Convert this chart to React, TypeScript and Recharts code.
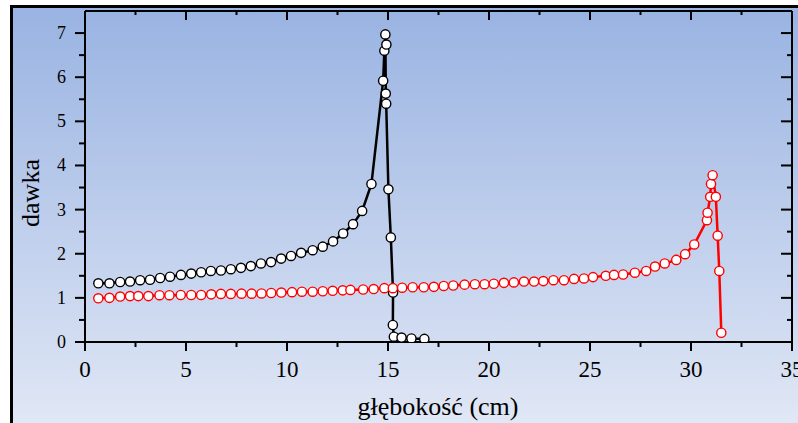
import React from 'react';
import { LineChart, Line, XAxis, YAxis, ReferenceLine } from 'recharts';

// depth (cm) and dose readings
const blackX = [0.66, 1.21, 1.74, 2.23, 2.73, 3.22, 3.72, 4.21, 4.75, 5.26, 5.75, 6.23, 6.73, 7.22, 7.72, 8.21, 8.71, 9.21, 9.71, 10.2, 10.7, 11.27, 11.77, 12.28, 12.78, 13.27, 13.72, 14.18, 14.76, 14.82, 14.92, 14.87, 14.89, 14.91, 15.02, 15.14, 15.25, 15.24, 15.29, 15.67, 16.16, 16.8];
const blackY = [1.33, 1.33, 1.36, 1.37, 1.4, 1.41, 1.45, 1.48, 1.52, 1.55, 1.58, 1.61, 1.62, 1.65, 1.68, 1.72, 1.78, 1.81, 1.89, 1.95, 2.02, 2.08, 2.16, 2.28, 2.46, 2.67, 2.97, 3.58, 5.92, 6.6, 6.74, 6.97, 5.63, 5.4, 3.46, 2.37, 1.12, 0.385, 0.12, 0.1, 0.08, 0.07];

const redX = [0.66, 1.21, 1.74, 2.23, 2.64, 3.14, 3.69, 4.18, 4.74, 5.26, 5.75, 6.25, 6.73, 7.22, 7.75, 8.25, 8.74, 9.22, 9.72, 10.25, 10.74, 11.27, 11.77, 12.26, 12.76, 13.14, 13.77, 14.29, 14.82, 15.24, 15.7, 16.22, 16.77, 17.27, 17.76, 18.23, 18.79, 19.3, 19.78, 20.24, 20.74, 21.23, 21.73, 22.23, 22.69, 23.19, 23.71, 24.21, 24.7, 25.15, 25.78, 26.19, 26.64, 27.22, 27.78, 28.22, 28.7, 29.27, 29.71, 30.16, 30.79, 30.82, 30.95, 30.99, 31.07, 31.23, 31.32, 31.4, 31.5];
const redY = [0.99, 1.0, 1.03, 1.04, 1.04, 1.04, 1.06, 1.06, 1.065, 1.065, 1.065, 1.08, 1.09, 1.09, 1.095, 1.095, 1.1, 1.11, 1.12, 1.13, 1.14, 1.14, 1.15, 1.16, 1.17, 1.18, 1.19, 1.2, 1.22, 1.22, 1.23, 1.24, 1.24, 1.25, 1.27, 1.28, 1.3, 1.31, 1.31, 1.32, 1.34, 1.35, 1.37, 1.37, 1.38, 1.4, 1.4, 1.43, 1.44, 1.47, 1.5, 1.52, 1.53, 1.57, 1.61, 1.71, 1.78, 1.86, 1.99, 2.21, 2.76, 2.93, 3.29, 3.58, 3.78, 3.29, 2.41, 1.61, 0.21];

const xTicks = [0, 2.5, 5, 7.5, 10, 12.5, 15, 17.5, 20, 22.5, 25, 27.5, 30, 32.5, 35];
const yTicks = [0, 0.5, 1, 1.5, 2, 2.5, 3, 3.5, 4, 4.5, 5, 5.5, 6, 6.5, 7];

const blackData = blackX.map((x, i) => ({ x, y: blackY[i] }));
const redData = redX.map((x, i) => ({ x, y: redY[i] }));

const FONT = '"Liberation Serif", "Times New Roman", serif';

// plot box edges (margin.top and width - margin.right)
const PLOT_TOP = 11;
const PLOT_RIGHT = 792;

// bottom tick also draws the inward tick on the top edge
const BottomTick = ({ x, y, payload }: any) => {
  const major = payload.value % 5 === 0;
  return (
    <g>
      <line x1={x} x2={x} y1={y} y2={y + (major ? 9 : 5)} stroke="#000" strokeWidth={2} />
      <line x1={x} x2={x} y1={PLOT_TOP} y2={PLOT_TOP + (major ? 9 : 4)} stroke="#000" strokeWidth={2} />
      {major && (
        <text x={x} y={y + 35} textAnchor="middle" fontSize={23} fontFamily={FONT} fill="#000">
          {payload.value}
        </text>
      )}
    </g>
  );
};

// left tick also draws the inward tick on the right edge
const LeftTick = ({ x, y, payload }: any) => {
  const major = payload.value % 1 === 0;
  return (
    <g>
      <line x1={x - (major ? 10 : 6)} x2={x} y1={y} y2={y} stroke="#000" strokeWidth={2} />
      <line x1={PLOT_RIGHT - (major ? 11 : 5)} x2={PLOT_RIGHT} y1={y} y2={y} stroke="#000" strokeWidth={2} />
      {major && (
        <text x={x - 19} y={y + 6} textAnchor="end" fontSize={18} fontFamily={FONT} fill="#000">
          {payload.value}
        </text>
      )}
    </g>
  );
};

export default function App() {
  return (
    <div style={{ position: 'absolute', left: 0, top: 0, width: 798, height: 423, overflow: 'hidden', background: '#fff' }}>
      <div
        style={{
          position: 'absolute',
          left: 10,
          top: 5,
          width: 800,
          height: 430,
          border: '3px solid #000',
          background: 'linear-gradient(to bottom, #99b3e2, #e3e9f6)',
        }}
      />
      <div style={{ position: 'absolute', left: 0, top: 0 }}>
        <LineChart width={798} height={423} margin={{ top: PLOT_TOP, right: 798 - PLOT_RIGHT, bottom: 0, left: 0 }}>
          <XAxis
            dataKey="x"
            type="number"
            domain={[0, 35]}
            ticks={xTicks}
            interval={0}
            tickSize={0}
            tickMargin={0}
            tick={<BottomTick />}
            height={81}
            axisLine={{ stroke: '#000', strokeWidth: 2 }}
            allowDataOverflow
          />
          <YAxis
            type="number"
            domain={[0, 7.5]}
            ticks={yTicks}
            interval={0}
            tickSize={0}
            tickMargin={0}
            tick={<LeftTick />}
            width={85}
            axisLine={{ stroke: '#000', strokeWidth: 2 }}
            allowDataOverflow
          />
          {/* top and right edges of the plot box */}
          <ReferenceLine y={7.5} stroke="#000" strokeWidth={2} ifOverflow="visible" />
          <ReferenceLine x={35} stroke="#000" strokeWidth={2} ifOverflow="visible" />
          <Line
            data={blackData}
            dataKey="y"
            type="linear"
            stroke="#000"
            strokeWidth={2.5}
            dot={{ r: 4.6, fill: '#fff', stroke: '#000', strokeWidth: 1.4 }}
            isAnimationActive={false}
          />
          <Line
            data={redData}
            dataKey="y"
            type="linear"
            stroke="#ff0000"
            strokeWidth={2.5}
            dot={{ r: 4.6, fill: '#fff', stroke: '#ff0000', strokeWidth: 1.4 }}
            isAnimationActive={false}
          />
        </LineChart>
      </div>
      <svg width={798} height={423} style={{ position: 'absolute', left: 0, top: 0, pointerEvents: 'none' }}>
        <text x={438} y={415} textAnchor="middle" fontSize={26} fontFamily={FONT} fill="#000">
          głębokość (cm)
        </text>
        <text
          x={39}
          y={193}
          textAnchor="middle"
          fontSize={26}
          fontFamily={FONT}
          fill="#000"
          transform="rotate(-90 39 193)"
        >
          dawka
        </text>
      </svg>
    </div>
  );
}
